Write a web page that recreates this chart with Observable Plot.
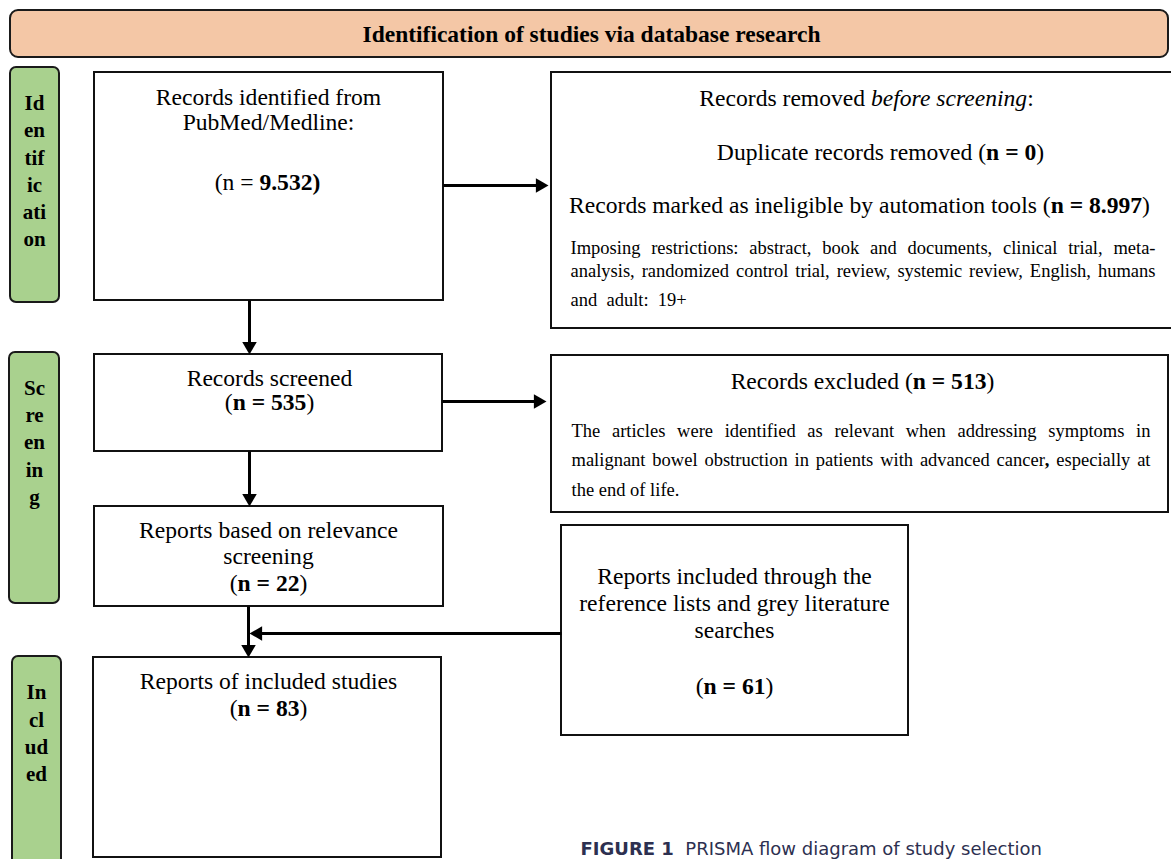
<!DOCTYPE html>
<html>
<head>
<meta charset="utf-8">
<script src="https://cdn.jsdelivr.net/npm/d3@7"></script>
<script src="https://cdn.jsdelivr.net/npm/@observablehq/plot@0.6"></script>
<style>
  html, body { margin: 0; padding: 0; background: #fff; }
  #chart svg { display: block; }
</style>
</head>
<body>
<div id="chart"></div>
<script>
// ---------- content ----------
const headerTitle = "Identification of studies via database research";
const stageNames = ["Identification", "Screening", "Included"];
const stageSyllables = [
  ["Id", "en", "tif", "ic", "ati", "on"],
  ["Sc", "re", "en", "in", "g"],
  ["In", "cl", "ud", "ed"]
];
const countNames  = ["identified", "duplicates", "ineligible", "screened", "excluded", "relevant", "otherSources", "included"];
const countValues = ["9.532", "0", "8.997", "535", "513", "22", "61", "83"];
const restrictionLines = [
  "Imposing restrictions: abstract, book and documents, clinical trial, meta-",
  "analysis, randomized control trial, review, systemic review, English, humans",
  "and\u00a0 adult:\u00a0 19+"
];
const relevanceLines = [
  "The articles were identified as relevant when addressing symptoms in",
  "malignant bowel obstruction in patients with advanced cancer**,** especially at",
  "the end of life."
];
const captionLabel = "FIGURE 1";
const captionText = "PRISMA flow diagram of study selection";

const n = Object.fromEntries(countNames.map((k, i) => [k, countValues[i]]));

// ---------- layout (diagram geometry, pixels) ----------
const W = 1171, H = 859;
const boxLayout = [
  {id: "header",     kind: "header", x1: 10,  x2: 1168, y1: 10,  y2: 57},
  {id: "Identification", kind: "stage", x1: 10, x2: 59, y1: 67,  y2: 302},
  {id: "Screening",  kind: "stage",  x1: 9,   x2: 59,   y1: 352, y2: 603},
  {id: "Included",   kind: "stage",  x1: 12,  x2: 61,   y1: 656, y2: 885},
  {id: "identified", kind: "box",    x1: 94,  x2: 443,  y1: 72,  y2: 300},
  {id: "removed",    kind: "box",    x1: 551, x2: 1185, y1: 72,  y2: 328},
  {id: "screened",   kind: "box",    x1: 94,  x2: 442,  y1: 354, y2: 451},
  {id: "excluded",   kind: "box",    x1: 551, x2: 1168, y1: 355, y2: 512},
  {id: "relevant",   kind: "box",    x1: 94,  x2: 443,  y1: 506, y2: 606},
  {id: "other",      kind: "box",    x1: 561, x2: 908,  y1: 525, y2: 735},
  {id: "included",   kind: "box",    x1: 93,  x2: 441,  y1: 657, y2: 857}
];
const stageCenters = [{x: 34, y: 169}, {x: 34, y: 440}, {x: 36, y: 731}];

const mainLines = [
  {text: "Records identified from", x: 268, y: 97},
  {text: "PubMed/Medline:", x: 268, y: 122},
  {text: `(n = **${n.identified})**`, x: 267, y: 182},
  {text: "Records removed __before screening__:", x: 866, y: 98},
  {text: `Duplicate records removed (**n = ${n.duplicates}**)`, x: 880, y: 152},
  {text: `Records marked as ineligible by automation tools (**n = ${n.ineligible}**)`, x: 859, y: 205},
  {text: "Records screened", x: 269, y: 378},
  {text: `(**n = ${n.screened}**)`, x: 269, y: 402},
  {text: `Records excluded (**n = ${n.excluded}**)`, x: 862, y: 381},
  {text: "Reports based on relevance", x: 268, y: 530},
  {text: "screening", x: 268, y: 556},
  {text: `(**n = ${n.relevant}**)`, x: 268, y: 583},
  {text: "Reports included through the", x: 734, y: 576},
  {text: "reference lists and grey literature", x: 734, y: 603},
  {text: "searches", x: 734, y: 630},
  {text: `(**n = ${n.otherSources}**)`, x: 734, y: 686},
  {text: "Reports of included studies", x: 268, y: 681},
  {text: `(**n = ${n.included}**)`, x: 268, y: 708}
];
const smallLines = [
  ...restrictionLines.map((t, i) => ({text: t, x: 570, y: [248, 271, 300][i], width: i < 2 ? 585 : null})),
  ...relevanceLines.map((t, i) => ({text: t, x: 571, y: [431, 460, 490][i], width: i < 2 ? 579 : null}))
];

const flows = [
  {dir: "down",  x: 249, from: 300, tip: 354},
  {dir: "right", y: 185, from: 443, tip: 548},
  {dir: "right", y: 401, from: 442, tip: 546},
  {dir: "down",  x: 249, from: 451, tip: 506},
  {dir: "down",  x: 248, from: 606, tip: 657},
  {dir: "left",  y: 633, from: 561, tip: 249}
];

// ---------- derived mark data ----------
const headR = 5.4;
const tipOffset = 2 * Math.sqrt((Math.PI * headR * headR) / (3 * Math.sqrt(3)));
const rot = {up: 0, right: 90, down: 180, left: 270};
const segs = flows.map(f => {
  const s = (f.dir === "down" || f.dir === "right") ? 1 : -1;
  const c = f.tip - s * tipOffset;
  return (f.dir === "down" || f.dir === "up")
    ? {x1: f.x, x2: f.x, y1: f.from, y2: c, hx: f.x, hy: c, r: rot[f.dir]}
    : {x1: f.from, x2: c, y1: f.y, y2: f.y, hx: c, hy: f.y, r: rot[f.dir]};
});
const stageText = stageNames.map((name, i) => ({name, text: stageSyllables[i].join("\n"), ...stageCenters[i]}));

const serif = "'Liberation Serif', 'Times New Roman', serif";

const chart = Plot.plot({
  width: W, height: H, margin: 0,
  x: {domain: [0, W], range: [0, W], axis: null},
  y: {domain: [0, H], range: [0, H], axis: null},
  style: {fontFamily: serif, background: "#fff", overflow: "hidden"},
  marks: [
    Plot.rect(boxLayout.filter(d => d.kind === "header"), {x1: "x1", x2: "x2", y1: "y1", y2: "y2", fill: "#f4c7a6", stroke: "#1a1a1a", strokeWidth: 2, rx: 8}),
    Plot.rect(boxLayout.filter(d => d.kind === "stage"), {x1: "x1", x2: "x2", y1: "y1", y2: "y2", fill: "#a9d18e", stroke: "#1a1a1a", strokeWidth: 2, rx: 6}),
    Plot.rect(boxLayout.filter(d => d.kind === "box"), {x1: "x1", x2: "x2", y1: "y1", y2: "y2", fill: "#fff", stroke: "#111", strokeWidth: 2}),
    Plot.link(segs, {x1: "x1", y1: "y1", x2: "x2", y2: "y2", stroke: "#000", strokeWidth: 3}),
    Plot.dot(segs, {x: "hx", y: "hy", symbol: "triangle", r: headR, rotate: "r", fill: "#000", stroke: "none"}),
    Plot.text([headerTitle], {x: () => 591, y: () => 34, text: d => d, fontSize: 23.5, fontWeight: "bold", fill: "#000", lineAnchor: "middle"}),
    Plot.text(stageText, {x: "x", y: "y", text: "text", fontSize: 21, fontWeight: "bold", lineHeight: 1.3, fill: "#000", lineAnchor: "middle"}),
    Plot.text(mainLines, {x: "x", y: "y", text: "text", fontSize: 23.6, fill: "#000", lineAnchor: "middle"}),
    Plot.text(smallLines, {x: "x", y: "y", text: "text", fontSize: 18.5, fill: "#000", textAnchor: "start", lineAnchor: "middle"}),
    Plot.text([`**${captionLabel}**\u00a0 ${captionText}`], {x: () => 580, y: () => 854, text: d => d, fontSize: 18, fontFamily: "'DejaVu Sans', sans-serif", fill: "#2d3050", textAnchor: "start", lineAnchor: "bottom"})
  ]
});

document.getElementById("chart").appendChild(chart);

// rich text (bold/italic runs) and justification of paragraph lines
const justify = new Map(smallLines.filter(d => d.width).map(d => [d.text, d.width]));
const NS = "http://www.w3.org/2000/svg";
chart.querySelectorAll("text").forEach(t => {
  const raw = t.textContent;
  if (/\*\*|__/.test(raw)) {
    const parts = raw.split(/(\*\*.+?\*\*|__.+?__)/).filter(s => s.length);
    t.textContent = "";
    for (const p of parts) {
      const ts = document.createElementNS(NS, "tspan");
      if (p.startsWith("**")) { ts.setAttribute("font-weight", "bold"); ts.textContent = p.slice(2, -2); }
      else if (p.startsWith("__")) { ts.setAttribute("font-style", "italic"); ts.textContent = p.slice(2, -2); }
      else ts.textContent = p;
      t.appendChild(ts);
    }
  }
  if (justify.has(raw)) {
    const natural = t.getComputedTextLength();
    const spaces = (t.textContent.match(/ /g) || []).length;
    if (spaces) t.style.wordSpacing = ((justify.get(raw) - natural) / spaces) + "px";
  }
});
</script>
</body>
</html>
